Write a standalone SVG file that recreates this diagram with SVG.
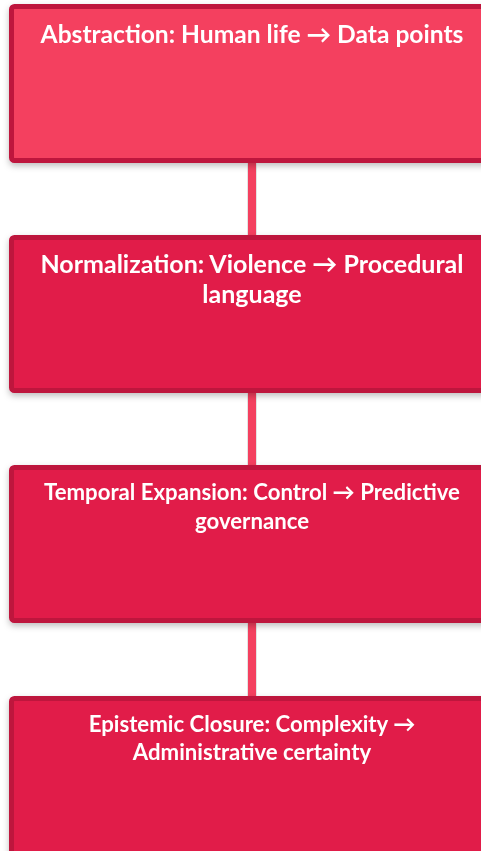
<svg xmlns="http://www.w3.org/2000/svg" width="481" height="851" viewBox="0 0 481 851">
<style>
.box{stroke:#be123c;stroke-width:5}
.b1{fill:#f43f5e}
.b2{fill:#e11d48}
.t{font-family:Lato,"Noto Sans",sans-serif;font-weight:bold;fill:#ffffff;text-anchor:middle}
.edge{fill:#f43f5e}
</style>
<defs>
<filter id="sh" x="-10%" y="-10%" width="120%" height="130%">
<feDropShadow dx="0" dy="3" stdDeviation="3" flood-color="#000" flood-opacity="0.25"/>
</filter>
</defs>
<rect width="481" height="851" fill="#ffffff"/>
<g id="connectors" filter="url(#sh)">
<rect class="edge" x="248" y="160" width="8" height="75"/>
<rect class="edge" x="248" y="390" width="8" height="75"/>
<rect class="edge" x="248" y="620" width="8" height="76"/>
</g>
<g id="node1" filter="url(#sh)">
<rect class="box b1" x="11.5" y="6.5" width="481" height="154" rx="3"/>
<text class="t" x="252" y="43" font-size="24.6">Abstraction: Human life → Data points</text>
</g>
<g id="node2" filter="url(#sh)">
<rect class="box b2" x="11.5" y="237.5" width="481" height="153" rx="3"/>
<text class="t" x="252" y="273" font-size="25">Normalization: Violence → Procedural</text>
<text class="t" x="252" y="303" font-size="25">language</text>
</g>
<g id="node3" filter="url(#sh)">
<rect class="box b2" x="11.5" y="467.5" width="481" height="153" rx="3"/>
<text class="t" x="252" y="500" font-size="22.2">Temporal Expansion: Control → Predictive</text>
<text class="t" x="252" y="528.5" font-size="22.2">governance</text>
</g>
<g id="node4" filter="url(#sh)">
<rect class="box b2" x="11.5" y="698.5" width="481" height="156" rx="3"/>
<text class="t" x="252" y="732" font-size="22.2">Epistemic Closure: Complexity →</text>
<text class="t" x="252" y="760" font-size="22.2">Administrative certainty</text>
</g>
</svg>
